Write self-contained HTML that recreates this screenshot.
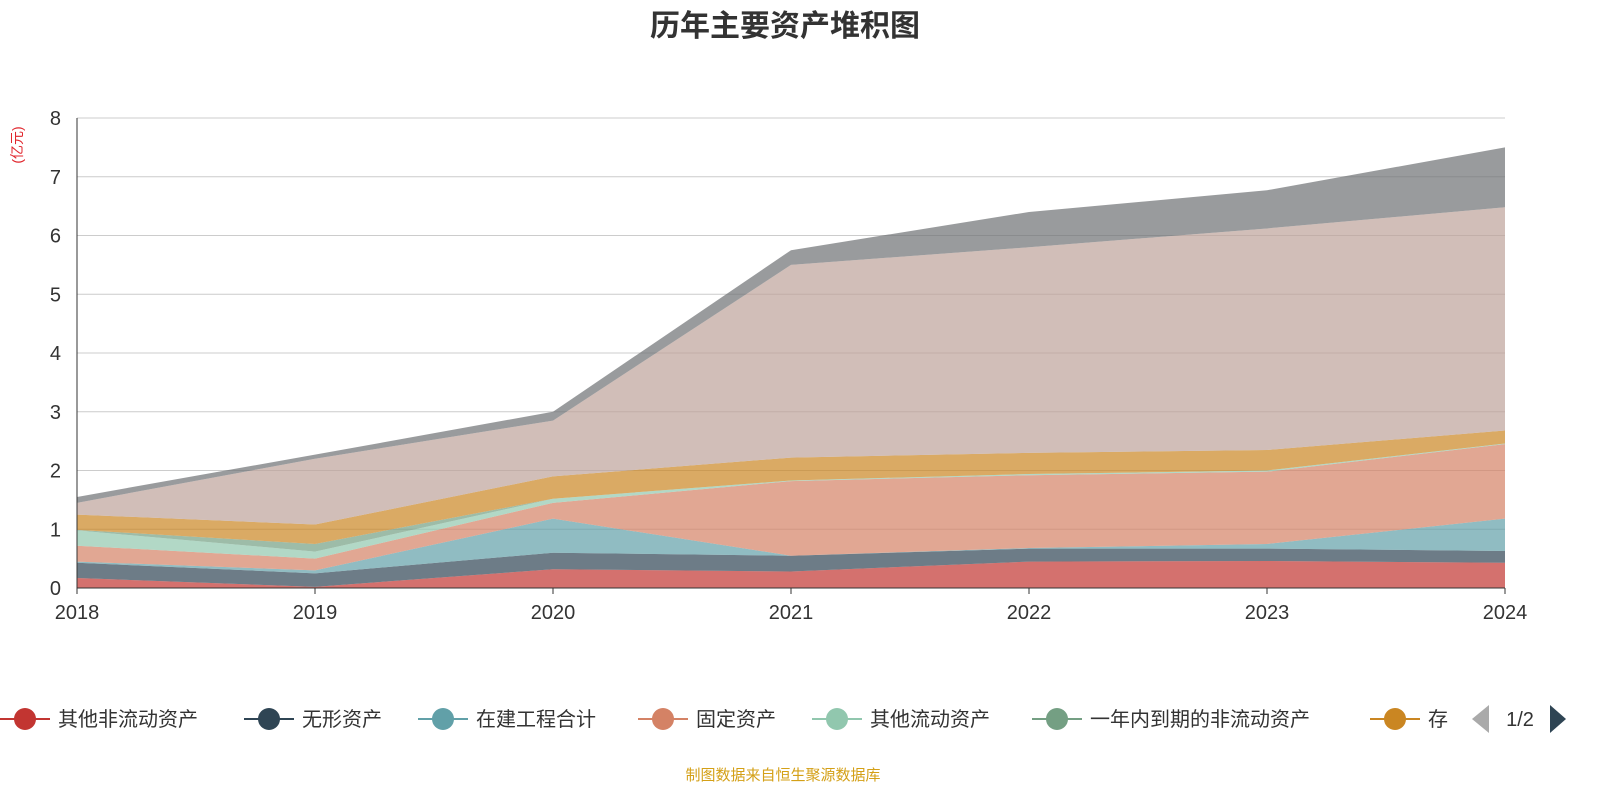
<!DOCTYPE html>
<html><head><meta charset="utf-8"><style>
body{margin:0;background:#fff;font-family:"Liberation Sans","Noto Sans CJK SC",sans-serif}
</style></head><body>
<svg id="c" width="1600" height="800" xmlns="http://www.w3.org/2000/svg">
<text x="785" y="36" text-anchor="middle" font-size="30" font-weight="bold" fill="#333" font-family="Liberation Sans,Noto Sans CJK SC,sans-serif">历年主要资产堆积图</text>
<text transform="translate(22,145) rotate(-90)" text-anchor="middle" font-size="14" fill="#e0262d" font-family="Liberation Sans,Noto Sans CJK SC,sans-serif">(亿元)</text>
<g id="grid"></g><g id="areas"></g><g id="axes"></g><g id="legend"></g>
<text x="783" y="780" text-anchor="middle" font-size="15" fill="#d4a017" font-family="Liberation Sans,Noto Sans CJK SC,sans-serif">制图数据来自恒生聚源数据库</text>
</svg>
<script>
const categories=['2018','2019','2020','2021','2022','2023','2024'];
const yTicks=[0,1,2,3,4,5,6,7,8];
const seriesNames=['其他非流动资产','无形资产','在建工程合计','固定资产','其他流动资产','一年内到期的非流动资产','存货','货币资金','其他'];
const s1=[0.17,0.02,0.32,0.28,0.45,0.46,0.43];
const s2=[0.26,0.23,0.28,0.27,0.22,0.21,0.20];
const s3=[0.02,0.05,0.58,0.00,0.01,0.08,0.55];
const s4=[0.27,0.20,0.27,1.27,1.24,1.23,1.27];
const s5=[0.26,0.12,0.07,0.01,0.02,0.02,0.01];
const s6=[0.01,0.13,0.00,0.00,0.00,0.00,0.00];
const s7=[0.26,0.33,0.38,0.39,0.36,0.35,0.22];
const s8=[0.20,1.12,0.95,3.28,3.50,3.77,3.80];
const s9=[0.10,0.07,0.15,0.25,0.60,0.65,1.02];
const seriesValues=[s1,s2,s3,s4,s5,s6,s7,s8,s9];
const colors=['#c23531','#2f4554','#61a0a8','#d48265','#91c7ae','#749f83','#ca8622','#bda29a','#6e7074'];
const NS='http://www.w3.org/2000/svg';
const X0=77,X1=1505,Y0=588,Y1=118;
const xs=i=>X0+(X1-X0)*i/(categories.length-1);
const ys=v=>Y0-(Y0-Y1)*v/8;
function mk(t,a,p){const e=document.createElementNS(NS,t);for(const k in a)e.setAttribute(k,a[k]);p.appendChild(e);return e;}
const grid=document.getElementById('grid'),axes=document.getElementById('axes'),areas=document.getElementById('areas'),leg=document.getElementById('legend');
const FF='Liberation Sans,Noto Sans CJK SC,sans-serif';
yTicks.forEach(t=>{
 const l=mk('line',{x1:X0,x2:X1,y1:ys(t),y2:ys(t),stroke:'#ccc'},grid);
 
 
 const tx=mk('text',{x:X0-16,y:ys(t)+7,'text-anchor':'end','font-size':20,fill:'#333','font-family':FF},axes);tx.textContent=t;
 
 
});
let cum=categories.map(()=>0);
seriesValues.forEach((s,k)=>{
 const lo=cum.slice();cum=cum.map((c,i)=>c+s[i]);
 let d='M'+cum.map((v,i)=>xs(i)+','+ys(v)).join('L');
 for(let i=lo.length-1;i>=0;i--)d+='L'+xs(i)+','+ys(lo[i]);
 const p=mk('path',{d:d+'Z',fill:colors[k],'fill-opacity':k==8?0.7:0.7,stroke:'none'},areas);
 
 
});
mk('line',{x1:X0,x2:X0,y1:Y1,y2:Y0,stroke:'#333'},axes);
mk('line',{x1:X0,x2:X1,y1:Y0,y2:Y0,stroke:'#333'},axes);
categories.forEach((c,i)=>{
 mk('line',{x1:xs(i),x2:xs(i),y1:Y0,y2:Y0+6,stroke:'#333'},axes);
 const t=mk('text',{x:xs(i),y:Y0+31,'text-anchor':'middle','font-size':20,fill:'#333','font-family':FF},axes);t.textContent=c;
 
 
});
const lx=[0,244,418,638,812,1032,1370];
seriesNames.slice(0,7).forEach((n,k)=>{
 const g=mk('g',{},leg);
 
 
 const x=lx[k];
 mk('line',{x1:x,x2:x+50,y1:719,y2:719,stroke:colors[k],'stroke-width':2},g);
 mk('circle',{cx:x+25,cy:719,r:11,fill:colors[k]},g);
 const t=mk('text',{x:x+58,y:726,'font-size':20,fill:'#333','font-family':FF},g);t.textContent=k==6?'存':n;
});
const pg=mk('g',{},leg);


mk('path',{d:'M1472,719L1489,705L1489,733Z',fill:'#aaa'},pg);
const pt=mk('text',{x:1520,y:726,'text-anchor':'middle','font-size':20,fill:'#333','font-family':FF},pg);pt.textContent='1/2';
mk('path',{d:'M1566,719L1550,705L1550,733Z',fill:'#2f4554'},pg);
</script>
</body></html>
